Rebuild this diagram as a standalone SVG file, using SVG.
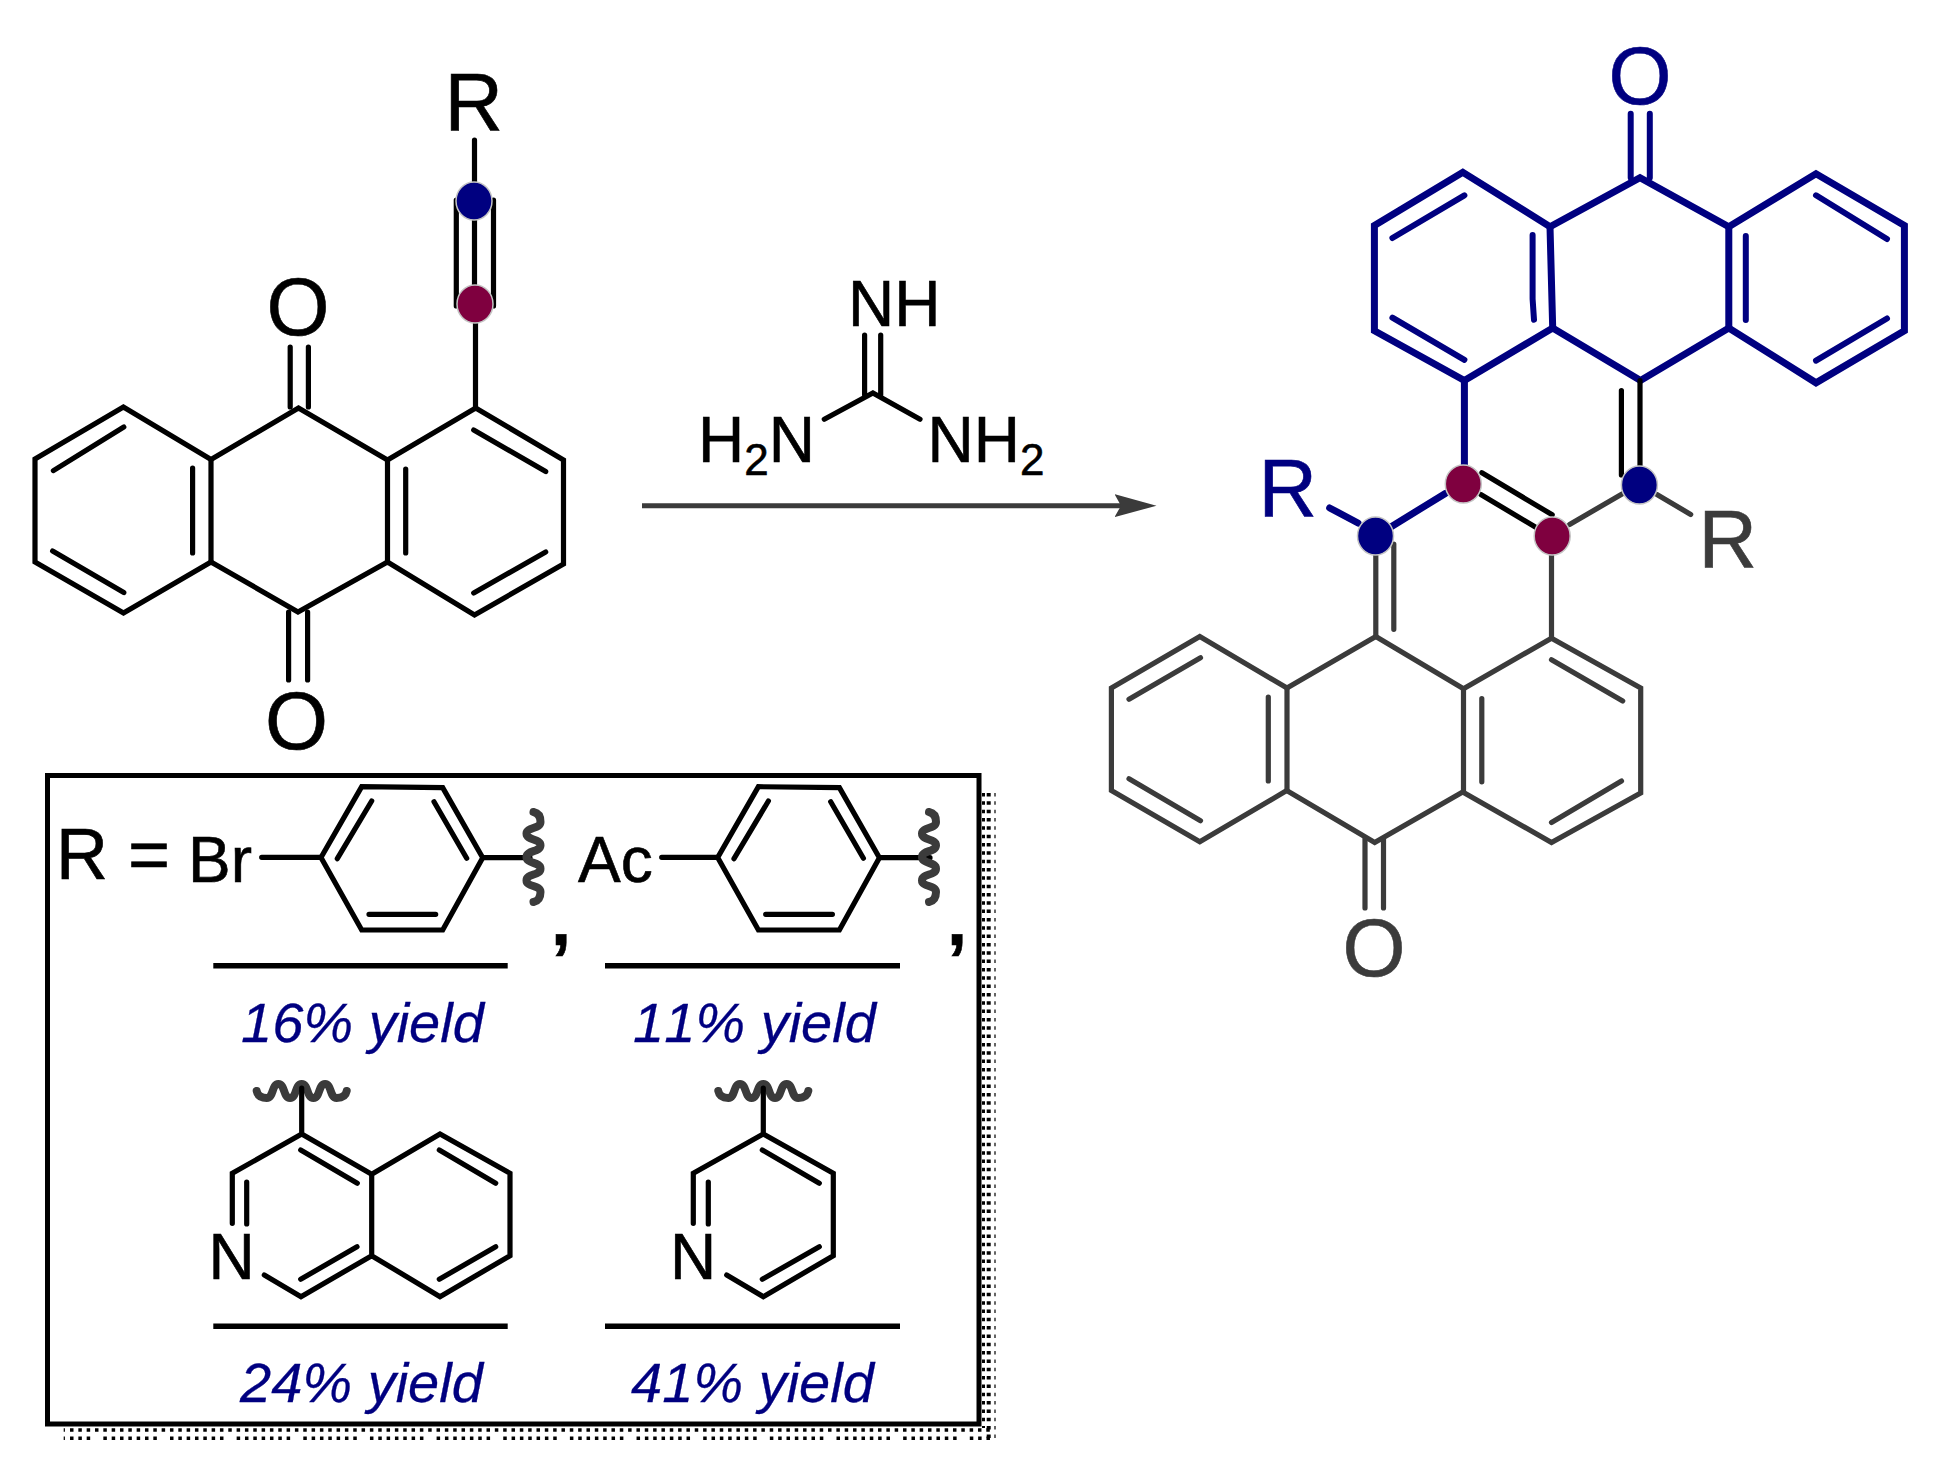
<svg xmlns="http://www.w3.org/2000/svg" xmlns:xlink="http://www.w3.org/1999/xlink" width="1935" height="1465" viewBox="0 0 1935 1465">
<style>
text{font-family:"Liberation Sans",Arial,sans-serif;font-kerning:none}
.k{fill:#000;stroke:#000;stroke-width:.6}.g{fill:#3b3b3b;stroke:#3b3b3b;stroke-width:.6}.b{fill:#000080;stroke:#000080;stroke-width:.6}
.big{font-size:81px}.mid{font-size:64px}.sub{font-size:44px}.box{font-size:72px}
.y{font-size:56px;font-style:italic;fill:#000080;stroke:#000080;stroke-width:.3}
.m{text-anchor:middle}
.ks,.gs,.bs,.bi{fill:none;stroke-linecap:round;stroke-linejoin:miter}
.ks{stroke:#000;stroke-width:5.2}
.gs{stroke:#3b3b3b;stroke-width:5.2}
.bs{stroke:#000080;stroke-width:7}
.bi{stroke:#000080;stroke-width:6}
.sq{fill:none;stroke:#3b3b3b;stroke-width:8;stroke-linecap:round}
.rule{fill:none;stroke:#000;stroke-width:5.5}
.bd{fill:#000080;stroke:#c4c4c4;stroke-width:1.5}
.rd{fill:#7f003f;stroke:#c4c4c4;stroke-width:1.5}
.dot{fill:none;stroke:#000}
</style>
<defs>
<path id="sq" class="sq" d="M-45 0C-44 5-40 7-35 7C-28 7-30-7-23.4-7C-16.5-7-18.6 7-11.7 7C-4.8 7-6.9-7 0-7C6.9-7 4.8 7 11.7 7C18.6 7 16.5-7 23.4-7C30-7 28 7 35 7C40 7 44 5 45 0"/>
<g id="phenyl">
<path class="ks" d="M321 857.5L361.7 786.7L442.7 787.7L482.7 857.7L442.7 930H361.7Z"/>
<path class="ks" d="M337.3 858.7L371.7 801M434 801.7L466.7 858.3M369 914.3H435.7"/>
</g>
<marker id="ah" markerUnits="userSpaceOnUse" markerWidth="44" markerHeight="26" refX="6.5" refY="13" orient="auto">
<path d="M0 1.5L42 13L0 24.5L6.5 13Z" fill="#3b3b3b"/>
</marker>
</defs>
<rect width="1935" height="1465" fill="#fff"/>

<g id="connectors">
<path id="reaction-arrow" d="M642 505.7H1121" fill="none" stroke="#3b3b3b" stroke-width="5" marker-end="url(#ah)"/>
</g>

<g id="reactant">
<path class="ks" d="M35 459L123.4 407L211 459.5L298.5 408L387.5 460L475.7 408L563.5 460V564L474.5 615L387.5 562L298 612L211 562L123.5 613L35 562Z"/>
<path class="ks" d="M53.4 470.6L123.8 427M52.6 551L123.8 592.6M192.6 468V553M211 459.5V562M387.5 460V562M405.7 469V553M473.7 430L545.7 471.6M473.7 593L545.7 552"/>
<path class="ks" d="M290.2 347V407M308.4 347V407M288.6 612V680M307.6 612V680"/>
<path class="ks" d="M474.5 140V304M456.3 200V306M493.5 200V306M475.5 304V408"/>
<ellipse class="bd" cx="474" cy="201" rx="18" ry="19"/>
<ellipse class="rd" cx="475" cy="304" rx="18" ry="19"/>
<text class="big k" x="444.5" y="130">R</text>
<text class="big k m" x="298" y="335">O</text>
<text class="big k m" x="296.6" y="749">O</text>
</g>

<g id="reagent">
<path class="ks" d="M864.6 335V395M880.7 335V395M824.3 419.3L872.9 393L920 419.3"/>
<text class="mid k" x="848" y="325.7">NH</text>
<text class="mid k" x="698" y="462.3">H<tspan class="sub" dy="12.7">2</tspan><tspan dy="-12.7">N</tspan></text>
<text class="mid k" x="927.6" y="462.3">NH<tspan class="sub" dy="12.7">2</tspan></text>
</g>

<g id="product-lower">
<path class="gs" d="M1111.4 688L1199.8 636.6L1287 688L1375.8 636.6L1463.5 688.7L1551.5 638.2L1640.7 688V793L1551.5 842.5L1462.7 792L1374.7 842.5L1286.7 790.6L1199.8 841.7L1111.4 790.6Z"/>
<path class="gs" d="M1287 688V790.6M1463.5 688.7V792M1129 699.3L1200.5 657.7M1129 778.8L1200.5 820.7M1268.3 697V781M1481.8 698.6V781.8M1551.5 659.7L1622.7 701M1551.5 822.4L1621.5 781"/>
<path class="gs" d="M1375.8 544V636.6M1393.8 544V629.3M1551.5 550V638.2M1365 839V908M1383.5 839V908"/>
<path class="gs" d="M1569.6 524.4L1622.5 493.8M1656.9 494.6L1690.7 514.4"/>
<text class="big g m" x="1374" y="976">O</text>
<text class="big g" x="1698.5" y="567">R</text>
</g>

<g id="product-upper">
<path class="bs" d="M1374.4 225.5L1462.8 172.3L1550 226.7L1640 177.7L1728.8 226.7L1816 173.8L1904.4 225.5V330.8L1816 382.8L1728.8 328L1640.5 380.5L1552.7 328L1464.4 380.5L1374.4 330.8Z"/>
<path class="bs" d="M1550 226.7L1552.7 328M1728.8 226.7V328"/>
<path class="bi" d="M1392.4 238L1464.4 195.3M1392.4 317.7L1464.4 359.8M1532.6 235V299L1534 319.7M1745.8 236V320M1816 195.3L1887 239M1816 360.6L1887 318.5M1630.7 113.8V177.7M1649.8 113.8V177.7"/>
<path class="bs" d="M1464.4 380.5V484M1390.8 527L1445.3 493.4M1329.7 508L1358 523"/>
<text class="big b" x="1258.5" y="516">R</text>
<text class="big b m" x="1640" y="104">O</text>
</g>

<g id="product-links">
<path class="ks" d="M1640 380.5V485M1621.4 390.5V475M1481.9 472.7L1552.2 514.8M1480.8 494.5L1535.3 527"/>
<ellipse class="rd" cx="1463.3" cy="484" rx="18" ry="19"/>
<ellipse class="bd" cx="1639.4" cy="485" rx="18" ry="19"/>
<ellipse class="rd" cx="1552.2" cy="536" rx="18" ry="19"/>
<ellipse class="bd" cx="1375.5" cy="536" rx="18" ry="19"/>
</g>

<g id="box-shadow">
<path class="dot" stroke-width="3.5" stroke-dasharray="3.5 4.83" d="M70 1430H993"/>
<path class="dot" stroke-width="3.5" stroke-dasharray="3.5 4.83 3.5 4.83 3.5 4.83 3.5 4.83 3.5 4.83 3.5 4.83 3.5 13.17" stroke-dashoffset="33.3" d="M70 1438.3H993"/>
<path class="dot" stroke-width="1.2" d="M64.3 1428.2V1431.8M64.3 1436.5V1440.1"/>
<path class="dot" stroke-width="3" stroke-dasharray="3.5 4.83" d="M983.5 793V1428"/>
<path class="dot" stroke-width="4" stroke-dasharray="3.5 4.83" d="M988.7 793V1441"/>
<path class="dot" stroke-width="1.2" stroke-dasharray="3.5 4.83" d="M995 793V1441"/>
</g>

<g id="r-box">
<rect x="47.5" y="775.5" width="931.5" height="648.5" fill="#fff" stroke="#000" stroke-width="5"/>
<text class="box k" x="56" y="879">R =</text>
</g>

<g id="r-bromophenyl">
<text class="mid k" x="188" y="881.7">Br</text>
<path class="ks" d="M261.7 857.3H321M482.7 857.7H530"/>
<use xlink:href="#phenyl" href="#phenyl"/>
<use xlink:href="#sq" href="#sq" transform="matrix(0 1 1 0 533.5 857)"/>
<text class="box k" font-weight="bold" style="font-weight:bold" x="551" y="945">,</text>
<path class="rule" d="M213.3 965.7H507.7"/>
<text class="y" x="241" y="1041.7">16% yield</text>
</g>

<g id="r-acetylphenyl">
<text class="mid k" x="578" y="881.7">Ac</text>
<path class="ks" d="M661.7 857.3H717.7M879.4 857.7H930"/>
<use xlink:href="#phenyl" href="#phenyl" transform="translate(396.7 0)"/>
<use xlink:href="#sq" href="#sq" transform="matrix(0 1 1 0 929 857)"/>
<text class="box k" font-weight="bold" style="font-weight:bold" x="947" y="945">,</text>
<path class="rule" d="M605 965.7H900"/>
<text class="y" x="633" y="1041.7">11% yield</text>
</g>

<g id="r-isoquinolinyl">
<use xlink:href="#sq" href="#sq" transform="translate(301.7 1091)"/>
<path class="ks" d="M301.7 1088V1134M232.3 1223.3V1173.3L301.7 1134L371.7 1174.3L440 1134L510 1173.3V1255.7L440 1296.7L371.7 1255.7L301 1296.7L264.3 1275M371.7 1174.3V1255.7"/>
<path class="ks" d="M246.7 1182V1224M300.7 1150L357.3 1183.3M300.7 1279.3L357 1246.7M439.3 1150L495.7 1183.3M439.3 1279.3L495.7 1246.7"/>
<text class="mid k" x="208.4" y="1279.3">N</text>
<path class="rule" d="M213.3 1326.3H507.7"/>
<text class="y" x="240" y="1401.7">24% yield</text>
</g>

<g id="r-pyridinyl">
<use xlink:href="#sq" href="#sq" transform="translate(763.3 1091)"/>
<path class="ks" d="M763.3 1088V1134M693.3 1223.3V1173.3L763.3 1134L833.3 1173.3V1255.7L763.3 1296.7L726.7 1275"/>
<path class="ks" d="M708.3 1182V1224M762.3 1150L819.3 1183.3M762.3 1279.3L819.3 1246.7"/>
<text class="mid k" x="670" y="1279.3">N</text>
<path class="rule" d="M605 1326.3H900"/>
<text class="y" x="631" y="1401.7">41% yield</text>
</g>
</svg>
